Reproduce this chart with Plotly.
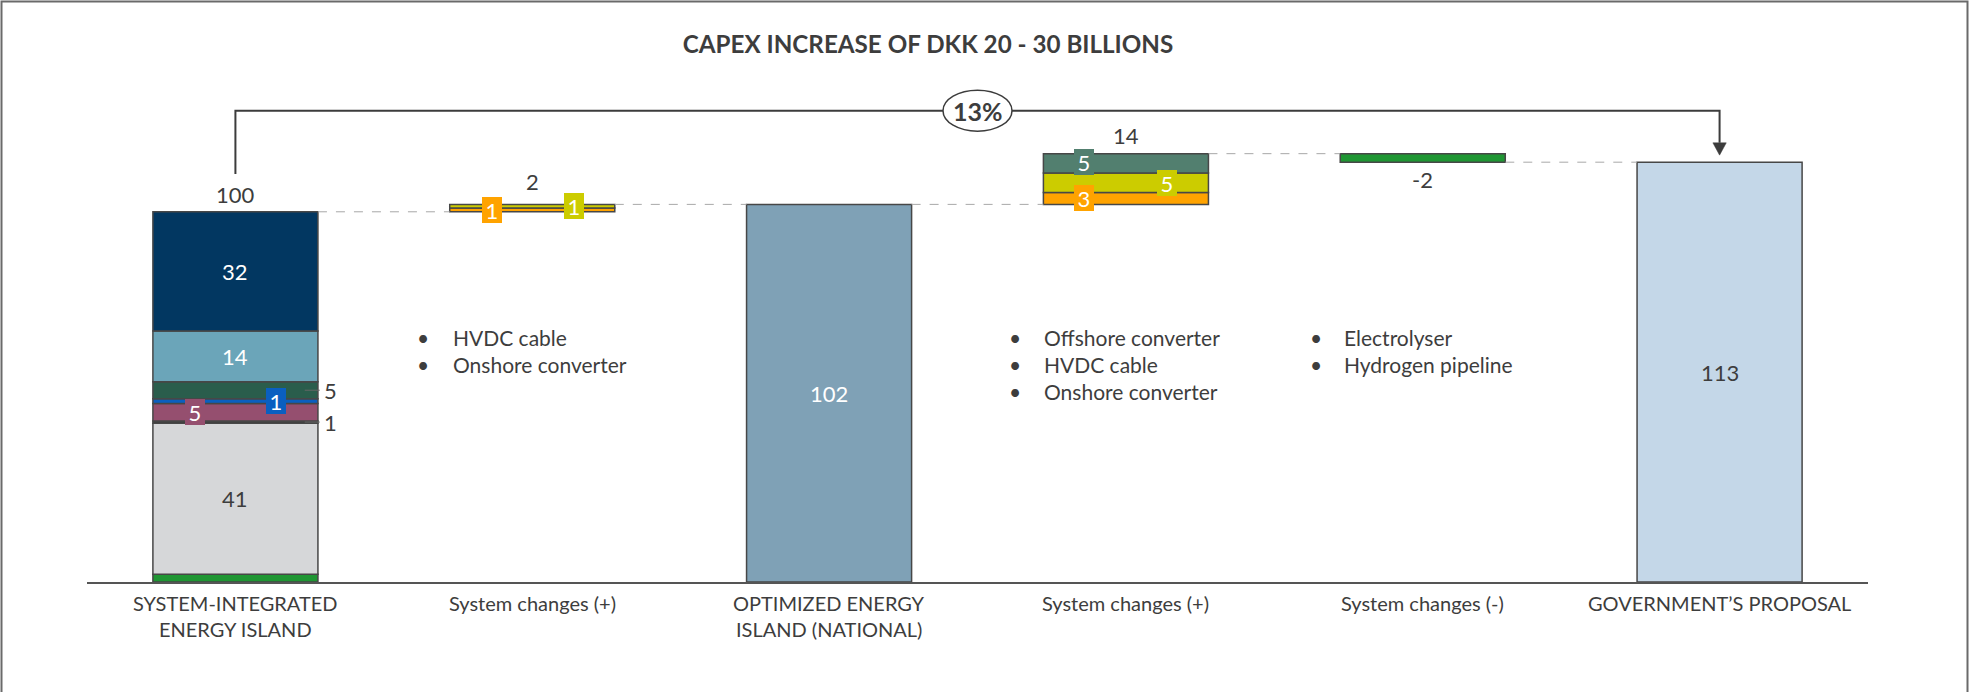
import plotly.graph_objects as go

# ---------------- data ----------------
categories = [
    "SYSTEM-INTEGRATED<br>ENERGY ISLAND",
    "System changes (+)",
    "OPTIMIZED ENERGY<br>ISLAND (NATIONAL)",
    "System changes (+)",
    "System changes (-)",
    "GOVERNMENT’S PROPOSAL",
]

# system-integrated island, components from bottom to top (DKK bn, index 100)
island_values = [2.1, 40.8, 0.6, 4.7, 1.3, 4.6, 13.7, 32.2]
island_colors = ["#1f9633", "#d6d7d9", "#3c3c3c", "#954f6f",
                 "#0a5fc0", "#2a5d4c", "#6ba5b9", "#023761"]

# first system change: HVDC cable, onshore converter
step1_values = [1.0, 1.0]
step1_colors = ["#ffa300", "#cccc00"]

# second system change: onshore converter, HVDC cable, offshore converter
step2_values = [3.2, 5.3, 5.2]
step2_colors = ["#ffa300", "#cccc00", "#527f6f"]

# third system change: electrolyser, hydrogen pipeline
step3_value = -2.3
step3_color = "#1f9633"

optimized_color = "#7fa1b6"
proposal_color = "#c4d7e8"

bullets_step1 = ["HVDC cable", "Onshore converter"]
bullets_step2 = ["Offshore converter", "HVDC cable", "Onshore converter"]
bullets_step3 = ["Electrolyser", "Hydrogen pipeline"]

title_text = "CAPEX INCREASE OF DKK 20 - 30 BILLIONS"

# ---------------- derived totals ----------------
total_island = sum(island_values)
total_optimized = total_island + sum(step1_values)
total_step2_top = total_optimized + sum(step2_values)
total_proposal = total_step2_top + step3_value
increase_pct = (total_proposal - total_island) / total_island * 100

# ---------------- geometry ----------------
W, H = 1969, 692
M_L, M_R, M_T, M_B = 87, 101, 60, 110
PW, PH = W - M_L - M_R, H - M_T - M_B
N = len(categories)
Y_MAX = 141
BAR_W = 0.556

FONT = "Lato"
TXT = "#3d3d3d"
EDGE = "#474747"
LINE = "#3c3c3c"
NUM_SIZE = 22
LABEL_SIZE = 20
BULLET_SIZE = 21


def px_x(px):
    return (px - M_L) / PW * N - 0.5


def px_y(py):
    return (H - M_B - py) / PH * Y_MAX


def paper_x(px):
    return (px - M_L) / PW


def paper_y(py):
    return (H - M_B - py) / PH


fig = go.Figure()
annotations = []
shapes = []


def add_segment(xpos, value, base, color):
    fig.add_trace(go.Bar(
        x=[xpos], y=[value], base=[base], width=BAR_W,
        marker=dict(color=color, line=dict(color=EDGE, width=1.5)),
        hoverinfo="skip", showlegend=False,
    ))


def stack(xpos, values, colors, start):
    centers = []
    b = start
    for v, c in zip(values, colors):
        add_segment(xpos, v, b, c)
        centers.append(b + v / 2)
        b += v
    return centers


def text(x, y, s, size=NUM_SIZE, color=TXT, xanchor="center", yshift=0, bold=False):
    annotations.append(dict(
        x=x, y=y, xref="x", yref="y", text=f"<b>{s}</b>" if bold else s,
        showarrow=False, xanchor=xanchor, yanchor="middle", yshift=yshift,
        font=dict(family=FONT, size=size, color=color),
    ))


def box(x, y, s, color):
    annotations.append(dict(
        x=x, y=y, xref="x", yref="y", text=s, showarrow=False,
        xanchor="center", yanchor="middle", width=20, height=26,
        bgcolor=color, borderpad=0, borderwidth=0,
        font=dict(family=FONT, size=NUM_SIZE, color="white"),
    ))


def fmt(v):
    return f"{round(v):d}"


# ---- bar 0: system-integrated island (stacked) ----
c0 = stack(0, island_values, island_colors, 0)
text(0, c0[7], fmt(island_values[7]), color="white")
text(0, c0[6], fmt(island_values[6]), color="white")
text(0, c0[1], fmt(island_values[1]))
box(0 - 0.137, c0[3], fmt(island_values[3]), island_colors[3])
box(0 + 0.138, c0[4], fmt(island_values[4]), island_colors[4])
for idx in (5, 2):
    text(0.321, c0[idx], fmt(island_values[idx]))
    shapes.append(dict(type="line", xref="x", yref="y", x0=0.2335, x1=0.284,
                       y0=c0[idx], y1=c0[idx], line=dict(color="#666666", width=1)))
text(0, total_island, fmt(total_island), yshift=17)

# ---- bar 1: first system change ----
c1 = stack(1, step1_values, step1_colors, total_island)
box(1 - 0.137, c1[0], fmt(step1_values[0]), step1_colors[0])
box(1 + 0.139, c1[1], fmt(step1_values[1]), step1_colors[1])
text(1, total_optimized, fmt(sum(step1_values)), yshift=23)

# ---- bar 2: optimized national island ----
add_segment(2, total_optimized, 0, optimized_color)
text(2, total_optimized / 2, fmt(total_optimized), color="white")

# ---- bar 3: second system change ----
c3 = stack(3, step2_values, step2_colors, total_optimized)
box(3 - 0.14, c3[0], fmt(step2_values[0]), step2_colors[0])
box(3 + 0.138, c3[1], fmt(step2_values[1]), step2_colors[1])
box(3 - 0.14, c3[2] + 0.4, fmt(step2_values[2]), step2_colors[2])
text(3, total_step2_top, fmt(sum(step2_values)), yshift=18)

# ---- bar 4: third system change (reduction) ----
add_segment(4, step3_value, total_step2_top, step3_color)
text(4, total_proposal, fmt(step3_value), yshift=-17.5)

# ---- bar 5: government's proposal ----
add_segment(5, total_proposal, 0, proposal_color)
text(5, total_proposal / 2, fmt(total_proposal))

# ---- dashed connectors between bars ----
levels = [total_island, total_optimized, total_optimized, total_step2_top, total_proposal]
for i, lv in enumerate(levels):
    shapes.append(dict(type="line", xref="x", yref="y",
                       x0=i + BAR_W / 2, x1=i + 1 - BAR_W / 2, y0=lv, y1=lv,
                       line=dict(color="#a8a8a8", width=1, dash="dash")))

# ---- bracket with percentage bubble ----
bracket_y = px_y(110.7)
left_end = total_island + 10.2
tip_y = total_proposal + 1.9
head_base = tip_y + (155 - 142.7) / PH * Y_MAX
shapes.append(dict(type="path", xref="x", yref="y",
                   path=f"M 0,{left_end} L 0,{bracket_y} L 5,{bracket_y} L 5,{head_base}",
                   line=dict(color=LINE, width=2)))
half_w = 6.7 / PW * N
shapes.append(dict(type="path", xref="x", yref="y",
                   path=f"M {5 - half_w},{head_base} L {5 + half_w},{head_base} L 5,{tip_y} Z",
                   fillcolor=LINE, line=dict(color=LINE, width=0.5)))
ell_hw = 34.5 / PW * N
ell_hh = 20.5 / PH * Y_MAX
shapes.append(dict(type="circle", xref="x", yref="y",
                   x0=2.5 - ell_hw, x1=2.5 + ell_hw,
                   y0=bracket_y - ell_hh, y1=bracket_y + ell_hh,
                   fillcolor="white", line=dict(color=LINE, width=1.5)))
text(2.5, bracket_y, f"{round(increase_pct)}%", size=25, bold=True)

# ---- bullet lists ----
def bullets(items, bullet_px, text_px):
    for k, item in enumerate(items):
        y = px_y(337 + 27 * k)
        text(px_x(bullet_px), y, "•", size=BULLET_SIZE)
        text(px_x(text_px), y, item, size=BULLET_SIZE, xanchor="left")


bullets(bullets_step1, 423, 450.7)
bullets(bullets_step2, 1015, 1042)
bullets(bullets_step3, 1316, 1342)

# ---- category labels ----
for i, cat in enumerate(categories):
    for j, line in enumerate(cat.split("<br>")):
        annotations.append(dict(
            x=i, y=0, xref="x", yref="y", text=line, showarrow=False,
            xanchor="center", yanchor="middle", yshift=-(21 + 26 * j),
            font=dict(family=FONT, size=LABEL_SIZE, color=TXT),
        ))

# ---- outer frame ----
shapes.append(dict(type="rect", xref="paper", yref="paper",
                   x0=paper_x(1.5), x1=paper_x(1967.5),
                   y0=paper_y(730), y1=paper_y(1.5),
                   line=dict(color="#6a6a6a", width=2), fillcolor="rgba(0,0,0,0)"))

fig.update_layout(
    width=W, height=H,
    margin=dict(l=M_L, r=M_R, t=M_T, b=M_B),
    paper_bgcolor="white", plot_bgcolor="white",
    barmode="overlay",
    title=dict(text=f"<b>{title_text}</b>", x=928 / W, y=1 - 45 / H,
               xanchor="center", yanchor="middle",
               font=dict(family=FONT, size=24.2, color=TXT)),
    xaxis=dict(range=[-0.5, N - 0.5], showticklabels=False, showgrid=False,
               zeroline=False, showline=True, linecolor="#555555", linewidth=1.5,
               ticks="", fixedrange=True),
    yaxis=dict(range=[0, Y_MAX], visible=False, fixedrange=True),
    annotations=annotations,
    shapes=shapes,
    showlegend=False,
)

fig.write_html("out.html", config={"displayModeBar": False})
